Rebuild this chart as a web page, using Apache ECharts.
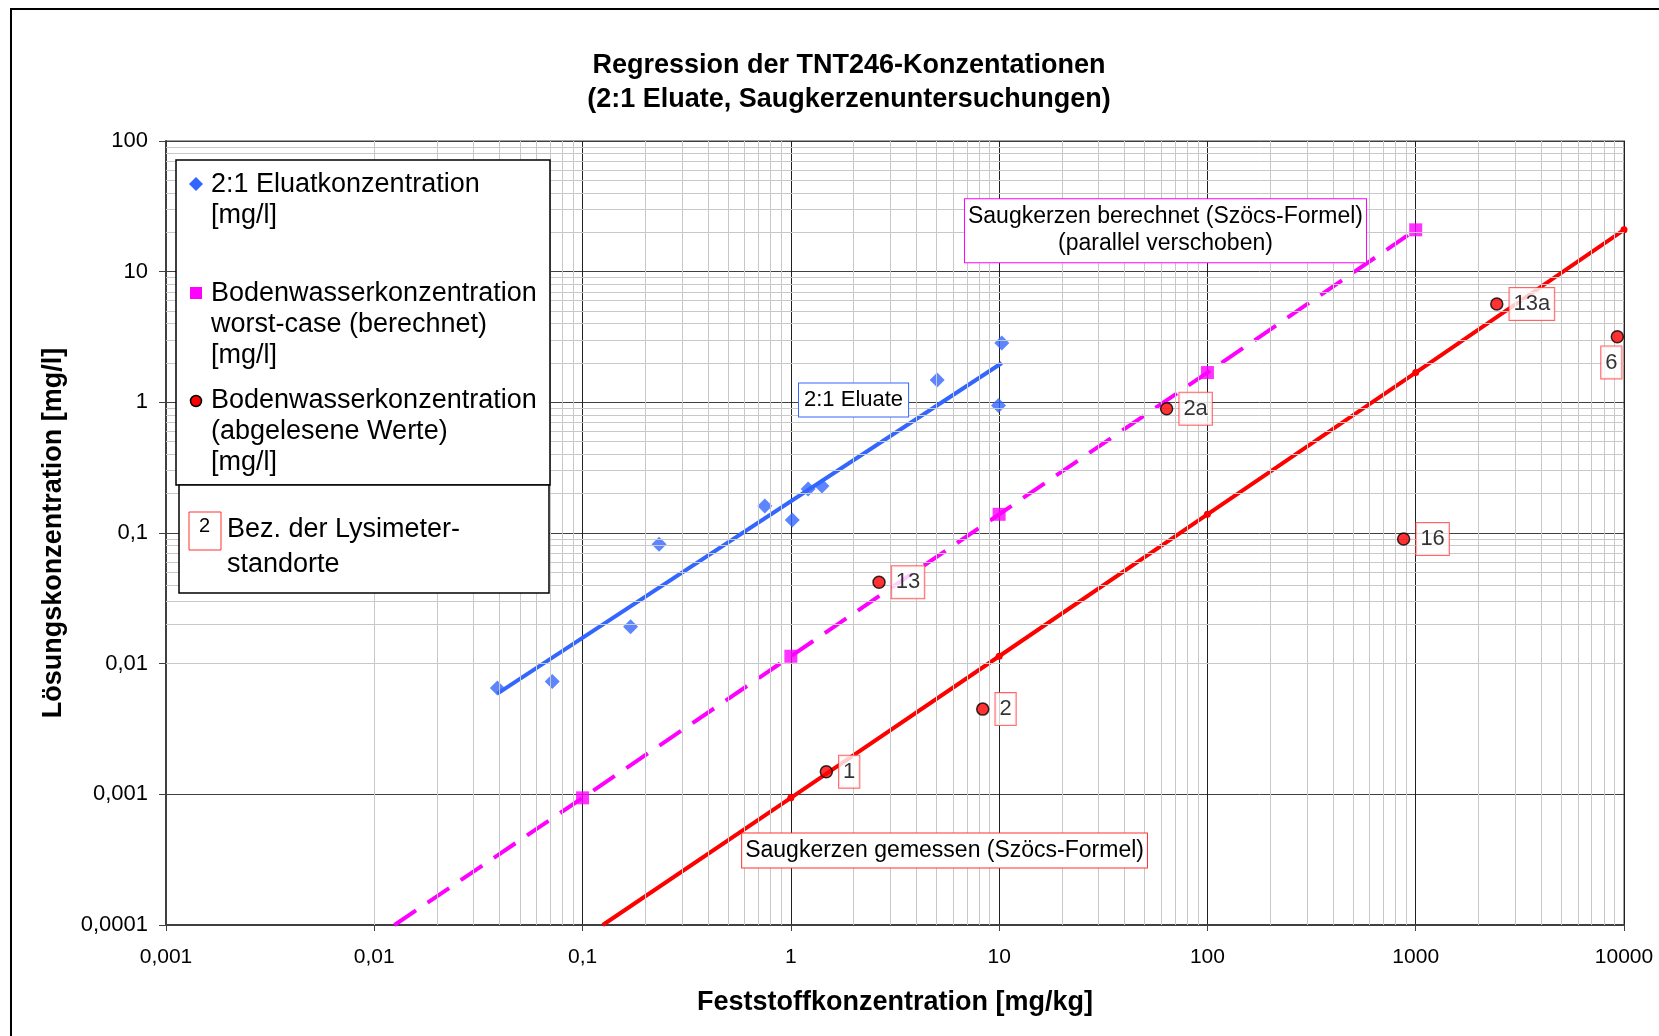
<!DOCTYPE html>
<html><head><meta charset="utf-8">
<script src="https://cdn.jsdelivr.net/npm/echarts@6/dist/echarts.min.js"></script>
<style>html,body{margin:0;padding:0;background:#fff}#c{width:1659px;height:1036px}</style>
</head><body><div id="c"></div>
<script>
// ---- tick labels ----
const xTickLabels = ['0,001','0,01','0,1','1','10','100','1000','10000'];
const yTickLabels = ['0,0001','0,001','0,01','0,1','1','10','100'];
// ---- 2:1 Eluate measured ----
const eluatX = [0.039,0.0715,0.17,0.233,0.75,1.016,1.21,1.41,5.04,10.3,9.93];
const eluatY = [0.0065,0.0073,0.0192,0.082,0.161,0.126,0.217,0.229,1.48,2.84,0.946];
// ---- 2:1 Eluate regression ----
const eluatFitX = [0.039,10.3];
const eluatFitY = [0.0059,2.0];
// ---- worst-case (berechnet) ----
const worstX = [0.1,1,10,100,1000];
const worstY = [0.00094,0.0114,0.139,1.69,20.9];
const worstLineX = [0.0125,0.1,1,10,100,1000];
const worstLineY = [0.0001,0.00094,0.0114,0.139,1.69,20.9];
// ---- Saugkerzen gemessen line ----
const measLineX = [0.125,1,10,100,1000,10000];
const measLineY = [0.0001,0.00094,0.0114,0.139,1.69,20.9];
const obsNames = ['1','2','13','2a','16','13a','6'];
const obsX = [1.48,8.34,2.65,63.7,875,2450,9290];
const obsY = [0.00149,0.00449,0.042,0.894,0.090,5.66,3.18];

const FONT = "'Liberation Sans', Arial, sans-serif";
const BLUE = '#3366ff', MAG = '#ff00ff', RED = '#ff0000';

const zip = (a,b) => a.map((v,i)=>[v,b[i]]);

// minor gridlines at 2..9 of each decade
const minorX = [], minorY = [];
for (let k=-3;k<=3;k++) for (let m=2;m<=9;m++) minorX.push({xAxis: m*Math.pow(10,k)});
for (let k=-4;k<=1;k++) for (let m=2;m<=9;m++) minorY.push({yAxis: m*Math.pow(10,k)});

const ptLabel = {
  show:true, position:'right', distance:6, formatter:'{b}',
  fontFamily:FONT, fontSize:22, color:'#000',
  backgroundColor:'#fff', borderColor:'#ff4040', borderWidth:1, padding:[6,4,4,4]
};

const chart = echarts.init(document.getElementById('c'));
chart.setOption({
  animation:false,
  backgroundColor:'#fff',
  title:{
    text:'Regression der TNT246-Konzentationen\n(2:1 Eluate, Saugkerzenuntersuchungen)',
    left:844, top:44, textAlign:'center',
    textStyle:{fontFamily:FONT, fontSize:27, fontWeight:'bold', color:'#000', lineHeight:34}
  },
  grid:{left:166, top:141, right:35, bottom:111, show:true, borderColor:'#a0a0a0', borderWidth:2, backgroundColor:'#fff'},
  xAxis:{
    type:'log', logBase:10, min:0.001, max:10000,
    name:'Feststoffkonzentration [mg/kg]', nameLocation:'middle', nameGap:64,
    nameTextStyle:{fontFamily:FONT, fontSize:27, fontWeight:'bold', color:'#000'},
    axisLine:{show:true, lineStyle:{color:'#404040', width:2}},
    axisTick:{show:true, length:6, lineStyle:{color:'#404040'}},
    axisLabel:{margin:22, fontFamily:FONT, fontSize:21, color:'#000',
      formatter: v => xTickLabels[Math.round(Math.log10(v))+3]},
    splitLine:{show:true, lineStyle:{color:'#202020', width:1}}
  },
  yAxis:{
    type:'log', logBase:10, min:0.0001, max:100,
    name:'Lösungskonzentration [mg/l]', nameLocation:'middle', nameGap:99, nameRotate:90,
    nameTextStyle:{fontFamily:FONT, fontSize:27, fontWeight:'bold', color:'#000'},
    axisLine:{show:true, lineStyle:{color:'#404040', width:2}},
    axisTick:{show:true, length:7, lineStyle:{color:'#404040'}},
    axisLabel:{margin:18, fontFamily:FONT, fontSize:22, color:'#000',
      formatter: v => yTickLabels[Math.round(Math.log10(v))+4]},
    splitLine:{show:true, lineStyle:{color:'#404040', width:1}}
  },
  series:[
    { type:'scatter', data:[], silent:true, z:1,
      markLine:{silent:true, symbol:'none', label:{show:false}, animation:false,
        lineStyle:{color:'#c8c8c8', width:1, type:'solid'},
        data: minorX.concat(minorY)} },
    { name:'fit', type:'line', data:zip(eluatFitX,eluatFitY), showSymbol:false, symbol:'none',
      lineStyle:{color:BLUE, width:4}, z:3, silent:true },
    { name:'2:1 Eluatkonzentration [mg/l]', type:'scatter', data:zip(eluatX,eluatY),
      symbol:'diamond', symbolSize:15, itemStyle:{color:BLUE}, z:4 },
    { name:'worstline', type:'line', data:zip(worstLineX,worstLineY), symbol:'none',
      lineStyle:{color:MAG, width:4, type:[26,14]}, z:3, silent:true },
    { name:'Bodenwasserkonzentration worst-case (berechnet) [mg/l]', type:'scatter',
      data:zip(worstX,worstY), symbol:'rect', symbolSize:13, itemStyle:{color:MAG}, z:4 },
    { name:'measline', type:'line', data:zip(measLineX,measLineY).map((p,i)=>({value:p, symbol: i===0?'none':'circle'})),
      symbol:'circle', symbolSize:7, showSymbol:true, itemStyle:{color:RED},
      lineStyle:{color:RED, width:4}, z:3, silent:true },
    { name:'Bodenwasserkonzentration (abgelesene Werte) [mg/l]', type:'scatter',
      data: obsNames.map((n,i)=>({name:n, value:[obsX[i],obsY[i]],
        label: n==='6' ? {position:'bottom', distance:3, offset:[-6,0]} : {}})),
      symbol:'circle', symbolSize:12,
      itemStyle:{color:RED, borderColor:'#000', borderWidth:1.5},
      label:ptLabel, z:6 },
    { type:'scatter', data:[], z:10, silent:true,
      markPoint:{ symbol:'rect', symbolSize:1, itemStyle:{color:'rgba(0,0,0,0)'}, silent:true,
        label:{show:true, position:'inside', fontFamily:FONT, fontSize:23, color:'#000',
          backgroundColor:'#fff', borderWidth:1, align:'center', verticalAlign:'middle'},
        data:[
          {coord:[2.0,1.04], value:'2:1 Eluate',
            label:{formatter:'2:1 Eluate', fontSize:22, borderColor:BLUE, padding:[6,5,5,5]}},
          {coord:[62.9,20.6], value:'b',
            label:{formatter:'Saugkerzen berechnet (Szöcs-Formel)\n(parallel verschoben)', borderColor:MAG, lineHeight:27, padding:[5,3,4,3]}},
          {coord:[5.47,0.000372], value:'g',
            label:{formatter:'Saugkerzen gemessen (Szöcs-Formel)', borderColor:'#ff3030', padding:[6,3,5,3]}}
        ]} }
  ],
  graphic:[
    {type:'rect', z:100, shape:{x:11, y:9, width:1700, height:1100}, style:{fill:'none', stroke:'#000', lineWidth:2}},
    {type:'rect', z:100, shape:{x:176, y:160, width:374, height:325}, style:{fill:'#fff', stroke:'#000', lineWidth:1.5}},
    {type:'rect', z:100, shape:{x:179, y:485, width:370, height:108}, style:{fill:'#fff', stroke:'#000', lineWidth:1.5}},
    {type:'polygon', z:101, shape:{points:[[196,177],[203,184],[196,191],[189,184]]}, style:{fill:BLUE}},
    {type:'rect', z:101, shape:{x:190, y:287, width:12, height:12}, style:{fill:MAG}},
    {type:'circle', z:101, shape:{cx:196, cy:401, r:5.5}, style:{fill:RED, stroke:'#000', lineWidth:1.5}},
    {type:'text', z:101, x:211, y:169, style:{text:'2:1 Eluatkonzentration\n[mg/l]', fontFamily:FONT, fontSize:27, lineHeight:31, fill:'#000', align:'left', verticalAlign:'top'}},
    {type:'text', z:101, x:211, y:278, style:{text:'Bodenwasserkonzentration\nworst-case (berechnet)\n[mg/l]', fontFamily:FONT, fontSize:27, lineHeight:31, fill:'#000', align:'left', verticalAlign:'top'}},
    {type:'text', z:101, x:211, y:385, style:{text:'Bodenwasserkonzentration\n(abgelesene Werte)\n[mg/l]', fontFamily:FONT, fontSize:27, lineHeight:31, fill:'#000', align:'left', verticalAlign:'top'}},
    {type:'rect', z:101, shape:{x:189, y:512, width:32, height:38}, style:{fill:'#fff', stroke:'#ff3030', lineWidth:1}},
    {type:'text', z:102, x:199, y:516, style:{text:'2', fontFamily:FONT, fontSize:20, fill:'#000', align:'left', verticalAlign:'top'}},
    {type:'text', z:101, x:227, y:512, style:{text:'Bez. der Lysimeter-\nstandorte', fontFamily:FONT, fontSize:27, lineHeight:35, fill:'#000', align:'left', verticalAlign:'top'}}
  ]
});
</script></body></html>
